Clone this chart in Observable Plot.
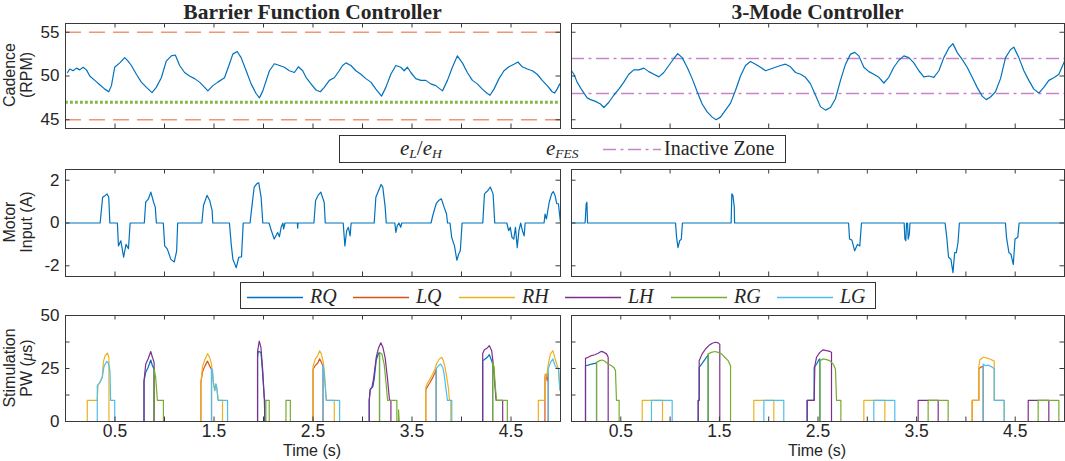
<!DOCTYPE html>
<html><head><meta charset="utf-8">
<script src="https://cdn.jsdelivr.net/npm/d3@7"></script>
<script src="https://cdn.jsdelivr.net/npm/@observablehq/plot@0.6"></script>
<style>
body{margin:0;background:#fff}
#fig{position:relative;width:1065px;height:461px;overflow:hidden;font-family:"Liberation Sans",Arial,sans-serif;color:#262626}
.t{position:absolute;white-space:nowrap}
.ttl{font:bold 21.5px "Liberation Serif",serif;text-align:center;line-height:24px;top:0}
.yl{font-size:16px;line-height:17px;text-align:center;transform:translate(-50%,-50%) rotate(-90deg)}
.xl{font-size:16px;transform:translate(-50%,-50%)}
.box{position:absolute;border:1px solid #333;background:#fff;box-sizing:border-box}
.lg{position:absolute;font:20px "Liberation Serif",serif;white-space:nowrap;transform:translateY(-50%)}
.lg i{font-style:italic}
.lg sub{font-size:13.5px;vertical-align:-3px}
</style></head>
<body><div id="fig"></div>
<script>
// ---------- axes / ticks ----------
const xTicks = [0.5,1,1.5,2,2.5,3,3.5,4,4.5];
const xTickLabels = [0.5,1.5,2.5,3.5,4.5];
const cadenceTicks = [45,50,55];
const motorTicks = [-2,0,2];
const stimTicks = [0,12.5,25,37.5,50];
const stimTickLabels = [0,25,50];
const cadenceBounds = [45,55];
const cadenceDesired = [47];
const inactiveZone = [48,52];
const channels = ["RQ","LQ","RH","LH","RG","LG"];
const channelColors = ["#0072BD","#D95319","#EDB120","#7E2F8E","#77AC30","#4DBEEE"];

// ---------- cadence (RPM) ----------
const bfcCadence = [[0.02,50.4],[0.044,50.8],[0.077,50.6],[0.111,50.9],[0.144,50.7],[0.178,51.0],[0.212,50.7],[0.245,50.0],[0.296,49.5],[0.346,49.0],[0.397,48.5],[0.437,48.2],[0.464,48.9],[0.497,51.0],[0.548,51.5],[0.598,52.1],[0.632,51.7],[0.665,51.2],[0.716,50.2],[0.766,49.3],[0.817,48.7],[0.874,48.1],[0.917,48.7],[0.968,49.8],[1.018,51.7],[1.069,52.3],[1.109,52.4],[1.153,51.2],[1.203,50.4],[1.253,50.0],[1.304,49.7],[1.354,49.3],[1.405,48.7],[1.438,48.3],[1.489,48.9],[1.539,49.3],[1.606,49.8],[1.657,51.4],[1.690,52.5],[1.734,52.8],[1.774,52.1],[1.825,50.6],[1.875,49.1],[1.925,48.0],[1.959,47.5],[1.993,48.3],[2.060,50.6],[2.110,51.4],[2.161,51.2],[2.211,51.0],[2.261,50.6],[2.312,50.4],[2.352,51.05],[2.396,50.6],[2.429,49.85],[2.480,49.1],[2.530,48.4],[2.574,48.2],[2.614,48.7],[2.665,49.5],[2.715,49.8],[2.765,50.6],[2.799,51.2],[2.833,51.5],[2.883,51.2],[2.933,50.6],[2.984,50.2],[3.034,49.7],[3.085,49.3],[3.135,48.5],[3.192,47.7],[3.236,48.7],[3.286,50.2],[3.337,51.2],[3.387,51.0],[3.421,50.6],[3.454,51.0],[3.488,50.4],[3.538,49.7],[3.589,49.5],[3.639,49.5],[3.690,49.1],[3.740,48.9],[3.808,48.3],[3.858,49.5],[3.908,51.0],[3.958,52.3],[4.009,51.5],[4.059,50.4],[4.110,49.5],[4.160,49.1],[4.210,48.5],[4.261,48.0],[4.288,47.8],[4.328,48.5],[4.379,49.7],[4.429,50.6],[4.479,51.05],[4.530,51.35],[4.570,51.6],[4.614,51.05],[4.664,50.8],[4.715,50.6],[4.765,50.2],[4.815,49.5],[4.866,48.9],[4.916,48.2],[4.940,48.05],[4.966,48.5],[4.993,49.1]];
const tmcCadence = [[0,50.6],[0.024,50.2],[0.057,49.3],[0.108,48.35],[0.159,47.5],[0.193,47.3],[0.243,47.1],[0.294,46.8],[0.328,46.4],[0.379,47.0],[0.429,47.8],[0.480,48.5],[0.531,49.3],[0.581,50.2],[0.632,50.7],[0.683,50.7],[0.734,50.9],[0.784,50.5],[0.835,50.2],[0.886,49.9],[0.936,50.4],[0.987,51.2],[1.038,52.0],[1.078,52.55],[1.122,52.1],[1.173,51.0],[1.224,49.7],[1.275,48.2],[1.325,46.8],[1.376,45.9],[1.427,45.3],[1.467,45.0],[1.511,45.3],[1.562,46.1],[1.613,46.9],[1.663,48.35],[1.714,50.0],[1.765,51.2],[1.815,51.65],[1.866,51.35],[1.917,51.0],[1.968,50.6],[2.018,50.8],[2.069,51.0],[2.120,51.2],[2.170,51.35],[2.221,51.05],[2.272,50.4],[2.323,50.2],[2.373,49.85],[2.424,49.1],[2.475,47.8],[2.525,46.5],[2.576,46.1],[2.627,46.4],[2.677,47.4],[2.728,49.5],[2.779,51.35],[2.830,52.5],[2.874,52.7],[2.914,52.3],[2.965,51.0],[3.016,50.5],[3.066,50.2],[3.117,49.85],[3.168,49.2],[3.218,49.85],[3.269,51.0],[3.320,51.8],[3.371,52.3],[3.421,52.1],[3.472,51.5],[3.523,50.6],[3.573,49.9],[3.624,50.0],[3.675,49.85],[3.726,50.6],[3.776,52.1],[3.827,53.2],[3.868,53.7],[3.911,52.7],[3.962,51.9],[4.013,51.0],[4.064,49.85],[4.114,48.7],[4.165,47.7],[4.206,47.3],[4.250,47.6],[4.300,48.2],[4.351,49.7],[4.402,52.1],[4.452,53.0],[4.486,53.3],[4.537,52.1],[4.588,50.6],[4.638,49.5],[4.689,48.5],[4.740,48.05],[4.790,48.7],[4.841,49.5],[4.892,49.8],[4.943,50.2],[5.0,51.7]];

// ---------- motor input (A) ----------
const bfcMotor = [[0,0],[0.350,0],[0.375,1.2],[0.402,1.29],[0.420,1.36],[0.437,1.2],[0.448,0],[0.524,0],[0.535,-1.07],[0.559,-0.83],[0.587,-1.6],[0.611,-1.0],[0.636,-1.2],[0.653,0],[0.796,0],[0.810,0.97],[0.838,1.13],[0.862,1.44],[0.890,0.97],[0.907,0.74],[0.918,0],[0.988,0],[1.002,-1.07],[1.029,-1.22],[1.064,-1.7],[1.099,-1.82],[1.123,-1.3],[1.133,0],[1.377,0],[1.394,0.82],[1.429,1.29],[1.457,1.05],[1.481,0.58],[1.488,0],[1.656,0],[1.674,-1.0],[1.691,-1.7],[1.725,-2.09],[1.750,-1.6],[1.778,-1.58],[1.795,0],[1.864,0],[1.882,0.74],[1.906,1.68],[1.934,1.84],[1.952,1.88],[1.976,1.2],[1.993,0],[2.056,0],[2.074,-0.28],[2.108,-0.75],[2.143,-0.44],[2.161,-0.64],[2.178,-0.2],[2.196,0],[2.203,-0.28],[2.217,0],[2.342,0],[2.345,-0.24],[2.349,0],[2.509,0],[2.526,1.05],[2.551,1.29],[2.579,1.44],[2.613,0.97],[2.624,0],[2.805,0],[2.822,-1.07],[2.840,-0.36],[2.857,-0.2],[2.875,-0.6],[2.885,0],[3.118,0],[3.135,1.2],[3.170,1.6],[3.188,1.8],[3.205,1.68],[3.229,0.74],[3.240,0],[3.327,0],[3.337,-0.44],[3.351,-0.13],[3.368,0],[3.386,-0.2],[3.396,0],[3.692,0],[3.710,0.35],[3.744,0.9],[3.769,1.05],[3.797,1.13],[3.824,0.74],[3.849,0.42],[3.859,0],[3.884,0],[3.901,-0.67],[3.929,-1.07],[3.953,-1.74],[3.971,-1.46],[3.988,-1.3],[4.006,0],[4.215,0],[4.232,1.36],[4.267,1.52],[4.291,1.68],[4.319,1.36],[4.336,0],[4.458,0],[4.476,-0.36],[4.493,-0.2],[4.510,-0.67],[4.528,-0.75],[4.545,-0.2],[4.563,-1.15],[4.580,-0.36],[4.598,0],[4.615,-0.36],[4.633,-0.6],[4.643,0],[4.834,0],[4.844,0.42],[4.858,0.19],[4.886,0.97],[4.910,1.36],[4.927,1.47],[4.945,1.29],[4.962,0.9],[4.979,0.9],[5.0,0]];
const tmcMotor = [[0,0],[0.138,0],[0.149,0.9],[0.156,0.97],[0.163,0],[1.055,0],[1.066,-0.67],[1.080,-1.15],[1.097,-0.83],[1.114,-0.75],[1.125,0],[1.619,0],[1.626,1.36],[1.637,1.29],[1.651,0.74],[1.654,0],[2.810,0],[2.820,-0.75],[2.844,-0.8],[2.872,-1.3],[2.900,-1.0],[2.924,-1.07],[2.941,0],[3.374,0],[3.381,-0.75],[3.391,-0.83],[3.398,0],[3.408,0],[3.415,-0.75],[3.426,-0.52],[3.433,0],[3.789,0],[3.806,-0.67],[3.824,-1.6],[3.848,-1.69],[3.869,-2.32],[3.886,-1.38],[3.903,-1.38],[3.920,-0.91],[3.934,0],[4.401,0],[4.412,-0.67],[4.436,-1.38],[4.457,-1.46],[4.481,-1.94],[4.498,-0.75],[4.526,-0.67],[4.540,0],[5,0]];

// ---------- stimulation PW (us), null = break ----------
const bfcRQ = [[0.793,0],[0.793,19],[0.810,23.2],[0.834,25.5],[0.861,29],[0.878,26.3],[0.895,24.8],[0.895,0],null,[1.940,0],[1.940,30],[1.947,33.1],[1.974,32.6],[1.991,23],[2.008,11],[2.014,0],null,[3.068,0],[3.068,10],[3.078,15],[3.088,15.8],[3.105,16.4],[3.118,20],[3.139,29],[3.162,32.2],[3.172,32.5],[3.172,0],null,[4.214,0],[4.214,28.7],[4.238,29.5],[4.261,30.3],[4.281,31.5],[4.305,28.7],[4.315,27],[4.315,0]];
const bfcLQ = [[1.367,0],[1.367,18],[1.384,23.5],[1.407,26],[1.434,28.5],[1.458,26],[1.475,24.5],[1.475,0],null,[2.500,0],[2.500,24.5],[2.524,26.5],[2.547,27.5],[2.567,29.6],[2.584,28],[2.601,26],[2.601,0],null,[3.639,0],[3.639,15],[3.656,16.4],[3.683,18.5],[3.710,20.8],[3.734,23.2],[3.744,24.5],[3.744,0],null,[4.843,0],[4.843,21],[4.853,22.4],[4.866,19.2],[4.876,23],[4.876,0]];
const bfcRH = [[0.220,0],[0.220,10],[0.321,10],[0.328,17],[0.348,18.5],[0.372,21],[0.382,28],[0.399,31],[0.422,32.3],[0.433,31.1],[0.439,30],[0.439,0],null,[1.367,0],[1.367,18],[1.384,26],[1.407,29],[1.434,32],[1.458,30],[1.475,27],[1.495,18],[1.508,14.5],[1.519,17.7],[1.529,15.5],[1.542,10],[1.586,10],[1.586,0],null,[2.500,0],[2.500,26],[2.524,29.5],[2.547,31],[2.567,33.4],[2.584,31.9],[2.601,28.7],[2.614,24],[2.628,14],[2.634,10],[2.715,10],[2.715,0],null,[3.639,0],[3.639,16],[3.656,18],[3.683,20.2],[3.710,22.5],[3.734,25],[3.750,27.5],[3.777,29.5],[3.801,30.3],[3.818,28.5],[3.834,25.5],[3.851,20.8],[3.868,15.8],[3.878,10],[3.892,10],[3.892,0],null,[4.776,0],[4.776,10],[4.843,10],[4.843,22],[4.859,21],[4.876,27],[4.899,31.9],[4.923,33.4],[4.946,29.5],[4.963,27],[4.980,24.8],[4.994,14.5]];
const bfcLH = [[0.793,0],[0.793,19],[0.810,27],[0.834,29.5],[0.861,33],[0.878,30.3],[0.895,27.9],[0.895,0],null,[1.940,0],[1.940,33],[1.957,37.9],[1.974,35],[1.991,25],[2.008,11],[2.014,10],[2.014,0],null,[3.068,0],[3.068,10],[3.078,15],[3.095,16],[3.111,20],[3.139,30.3],[3.162,34.7],[3.185,37.1],[3.206,35],[3.229,30],[3.253,20],[3.273,10],[3.287,10],[3.287,0],null,[4.214,0],[4.214,32],[4.231,33.8],[4.261,34.7],[4.281,35.8],[4.305,33.4],[4.321,27],[4.339,16],[4.349,10],[4.416,10],[4.416,0]];
const bfcRG = [[0.895,0],[0.895,24.8],[0.911,20.8],[0.928,10],[0.989,10],[0.989,0],null,[2.024,0],[2.024,10],[2.058,10],[2.058,0],null,[2.227,0],[2.227,10],[2.271,10],[2.271,0],null,[3.172,0],[3.172,32.6],[3.196,31.8],[3.219,27],[3.239,17.7],[3.253,10],[3.347,10],[3.347,0],null,[3.364,0],[3.364,5.5],[3.371,0],null,[4.315,0],[4.315,28],[4.328,26],[4.342,16],[4.355,10],[4.463,10],[4.463,0]];
const bfcLG = [[0.321,0],[0.321,16.9],[0.348,18.5],[0.372,21],[0.389,26],[0.416,28.4],[0.433,27.5],[0.449,24],[0.456,10],[0.497,10],[0.497,0],null,[1.475,0],[1.475,25],[1.485,24],[1.495,18],[1.508,14.5],[1.519,17.7],[1.529,15.5],[1.542,10],[1.637,10],[1.637,0],null,[2.601,0],[2.601,27],[2.614,22],[2.628,14],[2.634,10],[2.769,10],[2.769,0],null,[3.744,0],[3.744,24.8],[3.767,26.3],[3.791,27.1],[3.811,25.5],[3.824,22.4],[3.841,16.2],[3.858,10],[3.902,10],[3.902,0],null,[4.876,0],[4.876,24.8],[4.899,27.9],[4.923,29.5],[4.946,26.3],[4.963,25.2],[4.980,24.8],[4.994,15]];

const tmcRQ = [[0.142,0],[0.142,26.3],[0.169,26.6],[0.203,27.1],[0.237,27.4],[0.254,27.5],[0.254,0],null,[1.285,0],[1.285,10],[1.295,10],[1.295,25.5],[1.325,27.4],[1.352,29.2],[1.379,31],[1.386,31.5],[1.386,0],null,[2.390,0],[2.390,10],[2.461,10],[2.461,25.5],[2.485,27],[2.508,29],[2.519,29.5],[2.519,0]];
const tmcLQ = [[4.064,0],[4.064,10],[4.131,10],[4.131,25.2],[4.141,25.2],[4.158,25.8],[4.175,26],[4.175,0]];
const tmcRH = [[0.717,0],[0.717,10],[0.923,10],[0.923,0],null,[1.849,0],[1.849,10],[2.052,10],[2.052,0],null,[2.965,0],[2.965,10],[3.178,10],[3.178,0],null,[4.064,0],[4.064,10],[4.131,10],[4.131,26],[4.141,29],[4.175,30.3],[4.209,30.0],[4.243,29.5],[4.277,28.7],[4.287,28.5],[4.287,10],[4.388,10],[4.388,0]];
const tmcLH = [[0.142,0],[0.142,29.8],[0.169,30.3],[0.203,31.1],[0.237,31.5],[0.270,32.2],[0.304,33.1],[0.331,32.6],[0.355,31.9],[0.372,30.3],[0.372,0],null,[1.285,0],[1.285,10],[1.295,10],[1.295,28.7],[1.325,31.9],[1.359,34.2],[1.393,35.8],[1.427,36.9],[1.460,37.4],[1.488,37.1],[1.504,36.4],[1.504,0],null,[2.390,0],[2.390,10],[2.461,10],[2.468,26.3],[2.485,30.3],[2.519,32.6],[2.552,33.8],[2.586,33.4],[2.620,33.1],[2.637,32.6],[2.637,0],null,[3.516,0],[3.516,10],[3.719,10],[3.719,0],null,[4.632,0],[4.632,10],[4.841,10],[4.841,0]];
const tmcRG = [[0.254,0],[0.254,27.9],[0.287,28.7],[0.311,29.0],[0.338,28.4],[0.372,27.1],[0.406,26.3],[0.433,25.2],[0.446,24],[0.456,10],[0.483,10],[0.483,0],null,[1.386,0],[1.386,31.9],[1.420,32.6],[1.454,33],[1.488,32.6],[1.521,31.9],[1.555,30.3],[1.589,28.7],[1.613,26.3],[1.613,0],null,[2.519,0],[2.519,28.7],[2.552,29.5],[2.586,29.2],[2.620,28.7],[2.654,27.1],[2.677,24.8],[2.688,10],[2.732,10],[2.732,0],null,[3.617,0],[3.617,10],[3.820,10],[3.820,0],null,[4.733,0],[4.733,10],[4.943,10],[4.943,0]];
const tmcLG = [[0.811,0],[0.811,10],[1.021,10],[1.021,0],null,[1.951,0],[1.951,10],[2.153,10],[2.153,0],null,[3.066,0],[3.066,10],[3.279,10],[3.279,0],null,[4.175,0],[4.175,27.1],[4.199,26.3],[4.226,26.6],[4.260,25.8],[4.277,25.2],[4.287,25],[4.287,10],[4.388,10],[4.388,0]];

// ---------- build ----------
const fig = document.getElementById("fig");
const AX = "#3a3a3a";
const pts = arr => arr.map(p => p ? {t: p[0], v: p[1]} : {t: null, v: null});

function panel({left, top, width, height, mt, mb, ml, mr, yDomain, yTicks, yLabels, xLabels, marks}) {
  const fw = width - ml - mr, fh = height - mt - mb, tl = 4.5;
  const m = [
    ...marks,
    Plot.frame({stroke: AX, strokeWidth: 1}),
    Plot.tickX(xTicks, {x: d => d, stroke: AX, insetTop: fh - tl}),
    Plot.tickX(xTicks, {x: d => d, stroke: AX, insetBottom: fh - tl}),
    Plot.tickY(yTicks, {y: d => d, stroke: AX, insetRight: fw - tl}),
    Plot.tickY(yTicks, {y: d => d, stroke: AX, insetLeft: fw - tl})
  ];
  if (yLabels) m.push(Plot.axisY(yLabels, {anchor: "left", tickSize: 0, tickPadding: 6, fontSize: 17, label: null, color: "#262626", tickFormat: d => String(d)}));
  if (xLabels) m.push(Plot.axisX(xTickLabels, {anchor: "bottom", tickSize: 0, tickPadding: 3, fontSize: 17.5, label: null, color: "#262626", tickFormat: d => String(d)}));
  const svg = Plot.plot({
    width, height, marginTop: mt, marginBottom: mb, marginLeft: ml, marginRight: mr,
    x: {domain: [0, 5], axis: null, label: null},
    y: {domain: yDomain, axis: null, label: null},
    style: {fontFamily: "'Liberation Sans', Arial, sans-serif", background: "transparent", overflow: "visible"},
    marks: m
  });
  svg.style.position = "absolute"; svg.style.left = left + "px"; svg.style.top = top + "px";
  fig.appendChild(svg);
}

const L = {left: 0, width: 566, ml: 65, mr: 6};
const R = {left: 566, width: 499, ml: 5, mr: 1};
const row1 = {top: 13, height: 125, mt: 10, mb: 10, yDomain: [44, 56], yTicks: cadenceTicks};
const row2 = {top: 159, height: 127, mt: 10, mb: 10, yDomain: [-2.5, 2.5], yTicks: motorTicks};
const row3 = {top: 305, height: 156, mt: 10, mb: 40, yDomain: [0, 50], yTicks: stimTicks};

const cadLine = d => Plot.line(pts(d), {x: "t", y: "v", stroke: "#0072BD", strokeWidth: 1.2});
const stimMarks = chans => chans.map((d, i) => Plot.line(pts(d), {x: "t", y: "v", stroke: channelColors[i], strokeWidth: 1.2}));

panel({...L, ...row1, yLabels: cadenceTicks, marks: [
  Plot.ruleY(cadenceBounds, {stroke: "#F29472", strokeWidth: 1.3, strokeDasharray: "16,8"}),
  Plot.ruleY(cadenceDesired, {stroke: "#80B840", strokeWidth: 2.8, strokeDasharray: "2.8,2.2"}),
  cadLine(bfcCadence)
]});
panel({...R, ...row1, marks: [
  Plot.ruleY(inactiveZone, {stroke: "#C983CB", strokeWidth: 1.3, strokeDasharray: "13,4.5,3,4.5"}),
  cadLine(tmcCadence)
]});
panel({...L, ...row2, yLabels: motorTicks, marks: [cadLine(bfcMotor)]});
panel({...R, ...row2, marks: [cadLine(tmcMotor)]});
panel({...L, ...row3, yLabels: stimTickLabels, xLabels: true, marks: stimMarks([bfcRQ, bfcLQ, bfcRH, bfcLH, bfcRG, bfcLG])});
panel({...R, ...row3, xLabels: true, marks: stimMarks([tmcRQ, tmcLQ, tmcRH, tmcLH, tmcRG, tmcLG])});

// ---------- text ----------
function add(html, cls, style) {
  const d = document.createElement("div");
  d.className = cls; d.innerHTML = html; Object.assign(d.style, style); fig.appendChild(d); return d;
}
add("Barrier Function Controller", "t ttl", {left: "65px", width: "495px"});
add("3-Mode Controller", "t ttl", {left: "571px", width: "493px"});
add("Cadence<br>(RPM)", "t yl", {left: "18px", top: "75px"});
add("Motor<br>Input (A)", "t yl", {left: "18px", top: "222px"});
add('Stimulation<br>PW (<i style="font-family:\'Liberation Serif\',serif;font-size:17px">μ</i>s)', "t yl", {left: "18px", top: "368px"});
add("Time (s)", "t xl", {left: "312px", top: "451px"});
add("Time (s)", "t xl", {left: "817px", top: "451px"});

// legend 1
add("", "box", {left: "339px", top: "135px", width: "447px", height: "28px"});
add("<i>e</i><sub><i>L</i></sub>/<i>e</i><sub><i>H</i></sub>", "lg", {left: "400px", top: "149px", fontSize: "21px"});
add("<i>e</i><sub><i>FES</i></sub>", "lg", {left: "546px", top: "149px", fontSize: "21px"});
add('<svg width="58" height="6"><line x1="0" y1="3" x2="58" y2="3" stroke="#C983CB" stroke-width="1.3" stroke-dasharray="13,4.5,3,4.5"/></svg>', "lg", {left: "603px", top: "149px", lineHeight: "0"});
add("Inactive Zone", "lg", {left: "664px", top: "148px"});

// legend 2
add("", "box", {left: "240px", top: "282px", width: "636px", height: "27px"});
channels.forEach((c, i) => {
  add(`<svg width="56" height="4"><line x1="0" y1="2" x2="56" y2="2" stroke="${channelColors[i]}" stroke-width="1.3"/></svg>`, "lg", {left: (247 + 106 * i) + "px", top: "295.5px", lineHeight: "0"});
  add(`<i>${c}</i>`, "lg", {left: (310 + 106 * i) + "px", top: "295.5px"});
});
</script></body></html>
